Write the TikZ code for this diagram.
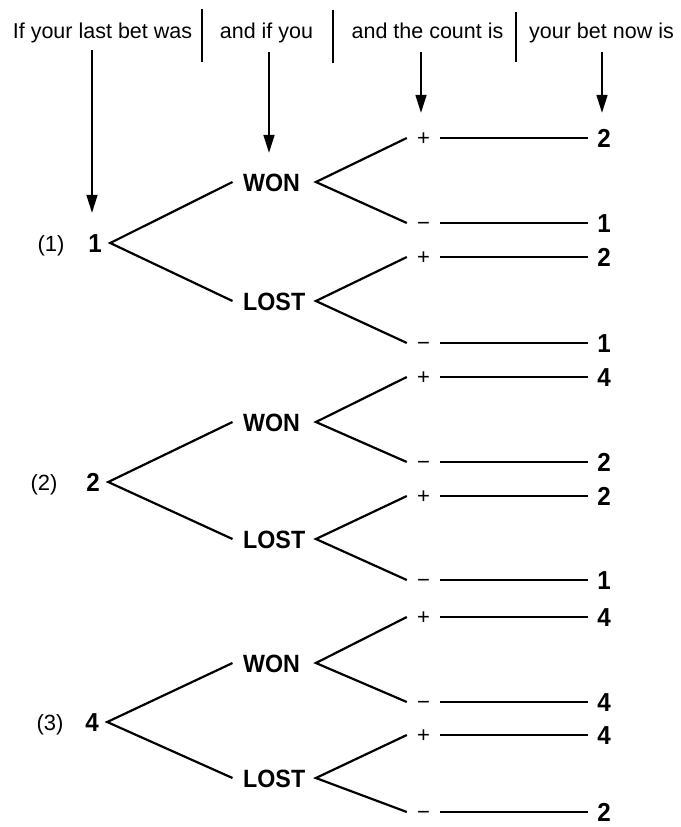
\documentclass[tikz,border=0pt]{standalone}
\usepackage{fontspec}
\setmainfont{Liberation Sans}
\newfontfamily\labfont[FakeStretch=0.93]{Liberation Sans}
\usetikzlibrary{arrows.meta}
\begin{document}
\begin{tikzpicture}[x=1pt,y=-1pt,
  hdr/.style={font=\fontsize{21.5}{25}\selectfont, anchor=base, inner sep=0pt},
  bar/.style={line width=2.2pt},
  arr/.style={line width=1.6pt, -{Triangle[length=18pt,width=11pt]}},
  branch/.style={line width=2.2pt},
  rootnum/.style={font=\labfont\bfseries\fontsize{26}{30}\selectfont, minimum width=30pt, inner sep=0pt, text height=18.5pt, text depth=0pt},
  idx/.style={font=\fontsize{22}{26}\selectfont, inner sep=0pt, text height=16pt, text depth=0pt},
  outcome/.style={font=\labfont\bfseries\fontsize{25}{29}\selectfont, anchor=west, text width=62pt, inner xsep=10.5pt, inner ysep=0pt, text height=18pt, text depth=0pt},
  sign/.style={font=\fontsize{22}{26}\selectfont, minimum width=33pt, inner sep=0pt, text height=15pt, text depth=0pt},
  val/.style={font=\labfont\bfseries\fontsize{26}{30}\selectfont, minimum width=32pt, inner sep=0pt, text height=18.5pt, text depth=0pt}
]
\useasboundingbox (0,0) rectangle (680,827);

% header
\node[hdr] (h1) at (102.5,38) {If your last bet was};
\node[hdr] (h2) at (266.5,38) {and if you};
\node[hdr] (h3) at (427.5,38) {and the count is};
\node[hdr] (h4) at (601.5,38) {your bet now is};
\draw[bar] (202,9) -- (202,62);
\draw[bar] (333,10) -- (333,63);
\draw[bar] (516,12) -- (516,62);

% trees
\foreach \t/\ix/\rv/\rx/\ry/\wy/\ly/\aa/\bb/\cc/\dd/\va/\vb/\vc/\vd in {
  1/51/1/95/243/182/301/138/223/257/343/2/1/2/1,
  2/44/2/93/482/422/539/377/462/496/580/4/2/2/1,
  3/50/4/92/722/663/778/617/702/735/812/4/4/4/2}{
  \node[idx] (i\t) at (\ix,\ry) {(\t)};
  \node[rootnum] (r\t) at (\rx,\ry) {\rv};
  \node[outcome] (w\t) at (232.5,\wy) {WON};
  \node[outcome] (l\t) at (232.5,\ly) {LOST};
  \node[sign] (wp\t) at (423.5,\aa) {+};
  \node[sign] (wm\t) at (423.5,\bb) {−};
  \node[sign] (lp\t) at (423.5,\cc) {+};
  \node[sign] (lm\t) at (423.5,\dd) {−};
  \node[val] (wpv\t) at (604,\aa) {\va};
  \node[val] (wmv\t) at (604,\bb) {\vb};
  \node[val] (lpv\t) at (604,\cc) {\vc};
  \node[val] (lmv\t) at (604,\dd) {\vd};
  \draw[branch] (w\t.west) -- (r\t.east) -- (l\t.west);
  \draw[branch] (wp\t.west) -- (w\t.east) -- (wm\t.west);
  \draw[branch] (lp\t.west) -- (l\t.east) -- (lm\t.west);
  \draw[branch] (wp\t.east) -- (wpv\t.west);
  \draw[branch] (wm\t.east) -- (wmv\t.west);
  \draw[branch] (lp\t.east) -- (lpv\t.west);
  \draw[branch] (lm\t.east) -- (lmv\t.west);
}

% arrows
\coordinate (a1) at (92,50);
\coordinate (a2) at (269,52);
\coordinate (a3) at (421,52);
\coordinate (a4) at (602,52);
\draw[arr, shorten >=20.75pt] (a1) -- (a1 |- r1.north);
\draw[arr, shorten >=20pt] (a2) -- (a2 |- w1.north);
\draw[arr, shorten >=17.5pt] (a3) -- (a3 |- wp1.north);
\draw[arr, shorten >=15.75pt] (a4) -- (a4 |- wpv1.north);
\end{tikzpicture}
\end{document}
